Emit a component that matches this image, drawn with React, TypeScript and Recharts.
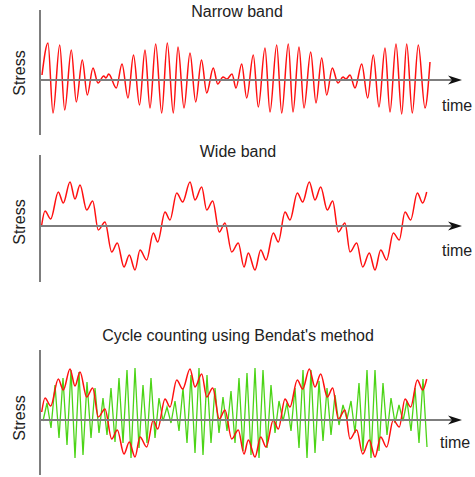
import React from 'react'
import { LineChart, Line, XAxis, YAxis, ReferenceLine } from 'recharts'

// narrow band: peaks/troughs (time in px from the stress axis)
const narrowTime = [
  2, 8, 13, 19.7, 24.7, 31.3, 36.3, 42.3, 47.3, 53, 58, 63.7, 66, 68.7, 76.3, 82, 88, 93.5,
  99.5, 105, 110, 115.7, 121.7, 127.3, 133.3, 138, 144, 150, 155.7, 161.5, 166.7, 173.3,
  177.7, 183, 187, 192, 196, 201.7, 206.7, 213.3, 218.3, 225, 230, 236.7, 241.7, 248.3, 253,
  259, 264, 270.7, 276, 281.7, 286.7, 292.3, 298, 303, 306, 310, 315, 321.7, 327.7, 333.3,
  339, 345, 350, 356, 361.7, 366.7, 372.3, 378.3, 385, 390,
]
const narrowStress = [
  5, 37, -33, 35, -30, 30, -22, 20, -15, 12, -3, 4, 2, 6, -8, 16, -18, 25, -25, 30, -28, 36,
  -33, 37, -33, 33, -28, 27, -22, 20, -13, 12, -4, 3, 1, 6, -8, 16, -18, 25, -27, 32, -32, 35,
  -33, 36, -32, 33, -28, 28, -23, 22, -15, 12, -3, 3, 1, 5, -8, 16, -18, 25, -27, 32, -32, 36,
  -34, 36, -33, 35, -28, 18,
]

// wide band: ripple tops and dips of the middle panel
const wideTime = [
  1.7, 5, 10.7, 18.3, 23.3, 30, 35, 40, 46.7, 52.7, 58.3, 65, 71.7, 77.3, 84, 89.3, 95, 100,
  106.7, 113.3, 117.7, 125, 130, 136.7, 142.7, 150, 155, 161.7, 166.7, 172.7, 179.3, 185,
  191.7, 198.3, 204, 208.3, 215, 220.7, 226, 233.3, 238.3, 245, 250, 257.3, 262.7, 269.3, 275,
  280.7, 287.3, 292.7, 298.3, 305, 310, 316.7, 322.7, 329.3, 335, 340.7, 346.7, 353.3, 359.3,
  365, 370.7, 377.3, 382.7, 386.7,
]
const wideStress = [
  1, 15, 7, 34, 23, 44, 27, 41, 16, 25, -4, 4, -26, -17, -41, -29, -44, -24, -34, -7, -16, 14,
  6, 33, 24, 44, 26, 39, 16, 25, -6, 3, -26, -17, -41, -27, -44, -24, -34, -7, -16, 14, 6, 33,
  24, 44, 26, 39, 16, 25, -6, 3, -26, -17, -41, -27, -44, -24, -34, -7, -14, 14, 6, 33, 23, 34,
]

// Bendat equivalent narrow band signal (green), one extreme every 4 px from t = 3
const greenStart = 3
const greenStep = 4
const greenStress = [
  -8, 10, -15, 28, -25, 35, -32, 43, -45, 41, -42, 31, -25, 25, -20, 15, -22, 25, -29, 35,
  -30, 43, -45, 45, -35, 28, -30, 35, -25, 15, -8, 6, -10, 12, -18, 25, -30, 38, -40, 45,
  -42, 38, -30, 25, -20, 16, -18, 22, -30, 35, -38, 40, -42, 45, -45, 43, -35, 28, -20, 12,
  -8, 10, -18, 25, -35, 43, -45, 43, -40, 32, -28, 25, -22, 18, -12, 8, -6, 12, -20, 30,
  -38, 43, -45, 43, -38, 30, -22, 15, -10, 8, -8, 12, -18, 25, -30, 34, -34,
]

const titles = ['Narrow band', 'Wide band', "Cycle counting using Bendat's method"]
const stressLabel = 'Stress'
const timeLabel = 'time'

const narrowRows = narrowTime.map((t, i) => ({ t, v: narrowStress[i] }))
const wideRows = wideTime.map((t, i) => ({ t, v: wideStress[i] }))
const greenRows = greenStress.map((v, i) => ({ t: greenStart + i * greenStep, v }))

const FONT = '"Liberation Sans", Arial, sans-serif'
const TEXT = '#222'
const AXIS = '#7d7d7d'
const RED = '#ff1010'

function ArrowAxis(props: any) {
  const { x1, y1, x2 } = props
  return (
    <g>
      <line x1={x1} y1={y1} x2={x2 - 8} y2={y1} stroke={AXIS} strokeWidth={2} />
      <path
        d={`M${x2},${y1} L${x2 - 14},${y1 - 4.5} L${x2 - 10},${y1} L${x2 - 14},${y1 + 4.5} Z`}
        fill="#111"
      />
    </g>
  )
}

function Panel({ top, height, domain, axisAt, children }: any) {
  return (
    <div style={{ position: 'absolute', left: 0, top }}>
      <LineChart width={475} height={height} margin={{ top: 0, right: 13, bottom: 0, left: 40 }}>
        <XAxis type="number" dataKey="t" domain={[0, 422]} hide allowDataOverflow />
        <YAxis type="number" domain={domain} hide allowDataOverflow />
        {children}
        <ReferenceLine x={0} stroke={AXIS} strokeWidth={2} />
        <ReferenceLine y={axisAt} shape={ArrowAxis} />
      </LineChart>
    </div>
  )
}

export default function App() {
  return (
    <div style={{ position: 'absolute', left: 0, top: 0, width: 475, height: 477, background: '#fff' }}>
      <Panel top={10} height={125} domain={[-55, 70]} axisAt={0}>
        <Line data={narrowRows} dataKey="v" type="monotone" stroke={RED} strokeWidth={1.5}
          dot={false} isAnimationActive={false} />
      </Panel>
      <Panel top={155} height={127} domain={[-56, 71]} axisAt={0}>
        <Line data={wideRows} dataKey="v" type="monotone" stroke={RED} strokeWidth={1.5}
          dot={false} isAnimationActive={false} />
        <ReferenceLine segment={[{ x: 0, y: 0 }, { x: 47, y: 0 }]} stroke="#222" strokeWidth={1.5} />
      </Panel>
      <Panel top={350} height={125} domain={[-62, 63]} axisAt={-7}>
        <Line data={greenRows} dataKey="v" type="linear" stroke="#4cd417" strokeWidth={1.3}
          dot={false} isAnimationActive={false} />
        <Line data={wideRows} dataKey="v" type="monotone" stroke={RED} strokeWidth={1.5}
          dot={false} isAnimationActive={false} />
      </Panel>
      <svg width={475} height={477} style={{ position: 'absolute', left: 0, top: 0, pointerEvents: 'none' }}
        fontFamily={FONT} fontSize={16} fill={TEXT}>
        <text x={237} y={17} textAnchor="middle">{titles[0]}</text>
        <text x={238} y={157} textAnchor="middle">{titles[1]}</text>
        <text x={238} y={341} textAnchor="middle">{titles[2]}</text>
        {[73, 222, 418].map((cy) => (
          <text key={cy} x={25} y={cy} textAnchor="middle" transform={`rotate(-90, 25, ${cy})`}>
            {stressLabel}
          </text>
        ))}
        <text x={442} y={111}>{timeLabel}</text>
        <text x={442} y={256}>{timeLabel}</text>
        <text x={440} y={448}>{timeLabel}</text>
      </svg>
    </div>
  )
}
